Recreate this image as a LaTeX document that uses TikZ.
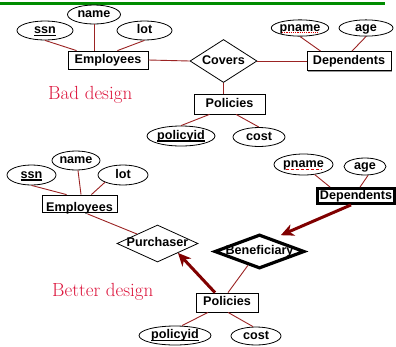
\documentclass[tikz,border=0pt]{standalone}
\usepackage{fontspec}
\newfontfamily\lab{Liberation Sans}
\usetikzlibrary{shapes.geometric,arrows.meta,shadows,calc}
\definecolor{connc}{RGB}{155,35,35}
\definecolor{arrc}{RGB}{128,0,0}
\definecolor{crim}{RGB}{220,20,60}
\definecolor{grn}{RGB}{0,140,0}
\newcommand{\keyattr}[1]{\setbox0=\hbox{#1}\leavevmode\rlap{\raisebox{-2.4pt}{\rule{\wd0}{1.3pt}}}\box0}
\begin{document}
\begin{tikzpicture}[x=1pt,y=-1pt,
  txt/.style={font=\lab\bfseries\fontsize{12.6}{14}\selectfont, text height=9pt, text depth=2.5pt},
  attr/.style={ellipse, draw, line width=0.8pt, inner sep=0pt, txt},
  ent/.style={rectangle, draw, line width=0.8pt, fill=white, inner sep=0pt, txt},
  shad/.style={drop shadow={shadow xshift=1.2pt, shadow yshift=-1.2pt, fill=black!40, opacity=1}},
  rel/.style={diamond, draw, line width=0.8pt, inner sep=0pt, fill=white},
  cn/.style={draw=connc, line width=0.9pt},
  thickarr/.style={draw=arrc, line width=3pt, -{Stealth[length=13pt,width=12pt,inset=4pt]}},
  dsgn/.style={font=\fontsize{19}{22}\selectfont, text=crim, inner sep=0pt, anchor=base west}
]
\useasboundingbox (0,0) rectangle (396,346);
\coordinate (gl) at (0,3.5);
\coordinate (gr) at (385,3.5);
\draw[grn, line width=2.6pt] (gl) -- (gr);

% ---------- Bad design ----------
\node[attr, minimum width=56, minimum height=19] (ssn) at (45,30.5) {\keyattr{ssn}};
\node[attr, minimum width=53, minimum height=19] (name) at (94,14.5) {name};
\node[attr, minimum width=55, minimum height=19] (lot) at (144.5,30.5) {lot};
\node[ent, shad, minimum width=80, minimum height=18] (emp) at (108,60) {Employees};
\node[rel, minimum width=67, minimum height=43, label={[txt]center:Covers}] (cov) at (223.5,61) {};
\node[ent, shad, minimum width=84, minimum height=19] (dep) at (349,61) {Dependents};
\node[attr, minimum width=54, minimum height=16] (pname) at (300,28) {pname};
\node[attr, minimum width=54, minimum height=16] (age) at (366,28) {age};
\node[ent, shad, minimum width=71, minimum height=20] (pol) at (229.5,104) {Policies};
\node[attr, minimum width=68, minimum height=20] (pid) at (181,136) {\keyattr{policyid}};
\node[attr, minimum width=52, minimum height=19] (cost) at (259,137) {cost};
\node[dsgn] (bad) at (48,99) {Bad design};

\draw[red!85!black, densely dotted, line width=1.2pt] ([xshift=-18,yshift=-4.5]pname.center) -- ([xshift=18,yshift=-4.5]pname.center);

\draw[cn] (ssn.south) -- ([xshift=9]emp.north west);
\draw[cn] (name.south) -- (name.south |- emp.north);
\draw[cn] (lot.south) -- ([xshift=-31]emp.north east);
\draw[cn] (emp.east) -- (cov.west);
\draw[cn] (cov.east) -- (dep.west);
\draw[cn] (cov.south) -- (cov.south |- pol.north);
\draw[cn] (pname.south) -- ([xshift=14]dep.north west);
\draw[cn] (age.south) -- ([xshift=3]dep.north);
\draw[cn] ([xshift=-20]pol.south) -- (pid.north);
\draw[cn] ([xshift=6.5]pol.south) -- (cost.north);

% ---------- Better design ----------
\node[attr, minimum width=49, minimum height=20] (ssnb) at (31.5,175) {\keyattr{ssn}};
\node[attr, minimum width=48, minimum height=19] (nameb) at (76,160.5) {name};
\node[attr, minimum width=50, minimum height=20] (lotb) at (123,175) {lot};
\node[ent, shad, minimum width=75, minimum height=17, label={[txt,yshift=-4.75pt]center:Employees}] (empb) at (79.5,203.5) {};
\node[rel, minimum width=81, minimum height=37, label={[txt]center:Purchaser}] (pur) at (157.5,243.5) {};
\node[rel, line width=3.2pt, minimum width=90, minimum height=34, label={[txt]center:Beneficiary}] (ben) at (259.5,251.5) {};
\node[ent, line width=2.8pt, minimum width=77, minimum height=15] (depb) at (356,196) {Dependents};
\node[attr, minimum width=59, minimum height=21] (pnameb) at (303.5,164.5) {pname};
\node[attr, minimum width=42, minimum height=17] (ageb) at (365,166.5) {age};
\node[ent, shad, minimum width=62, minimum height=19] (polb) at (227,302.5) {Policies};
\node[attr, minimum width=72, minimum height=19] (pidb) at (175,335.5) {\keyattr{policyid}};
\node[attr, minimum width=50, minimum height=18] (costb) at (256,336) {cost};
\node[dsgn] (better) at (52,296) {Better design};

\draw[red!85!black, densely dashed, line width=1.2pt] ([xshift=-18,yshift=-5]pnameb.center) -- ([xshift=18,yshift=-5]pnameb.center);

\draw[cn] (ssnb.south) -- ([xshift=25]empb.north west);
\draw[cn] ([xshift=2]nameb.south) -- ([xshift=1.5]empb.north);
\draw[cn] (lotb.202) -- ([xshift=-26]empb.north east);
\draw[cn] ([xshift=8,yshift=-1.5]empb.south) -- (pur.north west);
\draw[cn] (pnameb.-42) -- ([xshift=14]depb.north west);
\draw[cn] ([xshift=3]ageb.south) -- ([xshift=4]depb.north);
\draw[thickarr] ([xshift=-5]depb.south) -- ($(ben.north east)+(-2,-7)$);
\draw[thickarr] ([xshift=-12]polb.north) -- (pur.south east);
\draw[cn] ([xshift=1]polb.north) -- ($(ben.south west)!0.5!(ben.south)$);
\draw[cn] ([xshift=-19]polb.south) -- ([xshift=7]pidb.north);
\draw[cn] ([xshift=1]polb.south) -- ([xshift=-3]costb.north);
\end{tikzpicture}
\end{document}
